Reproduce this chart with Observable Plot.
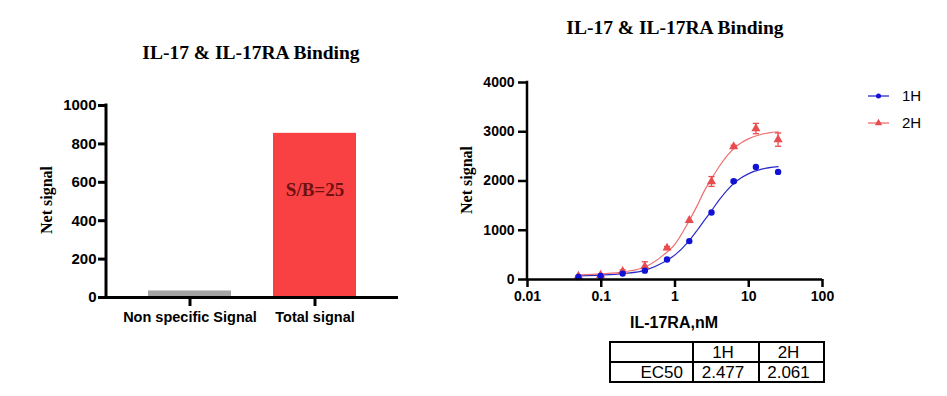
<!DOCTYPE html>
<html>
<head>
<meta charset="utf-8">
<script src="https://cdn.jsdelivr.net/npm/d3@7"></script>
<script src="https://cdn.jsdelivr.net/npm/@observablehq/plot@0.6"></script>
<style>
  html, body { margin: 0; padding: 0; background: #fff; }
  #root { position: relative; width: 947px; height: 396px; overflow: hidden; font-family: "Liberation Sans", Arial, sans-serif; }
  .abs { position: absolute; }
  .title { font-family: "Liberation Serif", "Times New Roman", serif; font-weight: bold; font-size: 19.5px; line-height: 20px; text-align: center; white-space: nowrap; }
  .ylab { font-family: "Liberation Serif", "Times New Roman", serif; font-weight: bold; font-size: 16px; line-height: 16px; white-space: nowrap; transform: translate(-50%, -50%) rotate(-90deg); }
  .xlab { font-weight: bold; font-size: 16px; line-height: 16px; white-space: nowrap; transform: translate(-50%, -50%); }
  table.ec { border-collapse: collapse; font-size: 17px; table-layout: fixed; width: 214px; }
  table.ec td { border: 2px solid #000; height: 18px; padding: 0; line-height: 17px; overflow: hidden; white-space: nowrap; }
  .leg { font-size: 15px; line-height: 15px; white-space: nowrap; }
</style>
</head>
<body>
<div id="root"></div>
<script>
// ---------- data ----------
const chartTitle = "IL-17 & IL-17RA Binding";
const yLabel = "Net signal";

// Left: bar chart
const barCategories = ["Non specific Signal", "Total signal"];
const barValues = [34, 855];
const barColors = ["#a3a3a3", "#f94144"];
const barTicks = [0, 200, 400, 600, 800, 1000];
const sbLabel = "S/B=25";
const sbLabelY = 560;

// Right: dose response
const xLabel = "IL-17RA,nM";
const seriesNames = ["1H", "2H"];
const seriesColors = ["#1212d6", "#e84c4f"];
const curveColors = ["#2a2ac8", "#ee6f6f"];
const conc = [0.049, 0.098, 0.195, 0.39, 0.78, 1.5625, 3.125, 6.25, 12.5, 25];
const h1Values = [50, 70, 120, 180, 405, 780, 1360, 1995, 2285, 2185];
const h1Errors = [0, 0, 0, 0, 0, 0, 0, 25, 0, 0];
const h2Values = [70, 90, 165, 265, 640, 1200, 1990, 2700, 3065, 2840];
const h2Errors = [0, 0, 30, 95, 30, 0, 100, 25, 105, 135];
// fitted curves
const fitX = [0.05, 0.1, 0.2, 0.4, 0.7, 1, 1.5, 2, 2.5, 3, 4, 5, 7, 10, 15, 25];
const fit1H = [75, 90, 120, 190, 350, 500, 760, 1000, 1200, 1360, 1620, 1800, 2010, 2150, 2240, 2290];
const fit2H = [95, 115, 155, 260, 500, 720, 1150, 1500, 1800, 2000, 2300, 2500, 2720, 2860, 2950, 3000];
const xTicks = [0.01, 0.1, 1, 10, 100];
const xTickLabels = ["0.01", "0.1", "1", "10", "100"];
const yTicks = [0, 1000, 2000, 3000, 4000];

// Table
const tableHeader = ["", "1H", "2H"];
const tableRowLabel = "EC50";
const ec50Values = ["2.477", "2.061"];

// ---------- build ----------
const root = document.getElementById("root");
function addDiv(cls, text, css) {
  const d = document.createElement("div");
  d.className = "abs " + cls;
  d.textContent = text;
  Object.assign(d.style, css);
  root.appendChild(d);
  return d;
}

// Left chart
const barData = barCategories.map((c, i) => ({cat: c, value: barValues[i], color: barColors[i]}));
const leftAxisLine = (index, scales, values, dims) => {
  const l = document.createElementNS("http://www.w3.org/2000/svg", "line");
  l.setAttribute("x1", dims.marginLeft); l.setAttribute("x2", dims.marginLeft);
  l.setAttribute("y1", scales.y(barTicks[0]) + 1.5); l.setAttribute("y2", scales.y(barTicks[barTicks.length - 1]) - 1.5);
  l.setAttribute("stroke", "#000"); l.setAttribute("stroke-width", 3);
  return l;
};
const left = Plot.plot({
  width: 420, height: 340,
  marginLeft: 106, marginRight: 22, marginTop: 105, marginBottom: 43,
  style: {fontFamily: "Liberation Sans, Arial, sans-serif", color: "#000", background: "transparent"},
  x: {domain: barCategories, padding: 0.336},
  y: {domain: [0, 1000]},
  marks: [
    Plot.barY(barData, {x: "cat", y: "value", fill: "color"}),
    Plot.text([{cat: barCategories[1], y: sbLabelY, t: sbLabel}], {x: "cat", y: "y", text: "t", fill: "#6e1212", fontSize: 19, fontWeight: "bold", fontFamily: "Liberation Serif, Times New Roman, serif"}),
    Plot.axisY({ticks: barTicks, tickFormat: d => String(d), tickSize: 8, tickPadding: 2, strokeWidth: 3, fontSize: 15, fontWeight: "bold", label: null}),
    Plot.axisX({tickSize: 9, tickPadding: 5, strokeWidth: 3, fontSize: 14.5, fontWeight: "bold", label: null}),
    Plot.ruleY([0], {strokeWidth: 3}),
    leftAxisLine
  ]
});
left.style.position = "absolute"; left.style.left = "0px"; left.style.top = "0px";
root.appendChild(left);

addDiv("title", chartTitle, {left: "51px", top: "43px", width: "400px"});
addDiv("ylab", yLabel, {left: "47px", top: "200px"});

// Right chart
const pts = [];
conc.forEach((x, i) => {
  pts.push({x, y: h1Values[i], e: h1Errors[i], s: seriesNames[0]});
  pts.push({x, y: h2Values[i], e: h2Errors[i], s: seriesNames[1]});
});
const fits = [];
fitX.forEach((x, i) => {
  fits.push({x, y: fit1H[i], s: seriesNames[0]});
  fits.push({x, y: fit2H[i], s: seriesNames[1]});
});
const errPts = pts.filter(d => d.e > 0);
const capSymbol = {draw(ctx, size) { const r = Math.sqrt(size) / 2; ctx.moveTo(-r, 0); ctx.lineTo(r, 0); }};
const colorOf = s => seriesColors[seriesNames.indexOf(s)];
const curveOf = s => curveColors[seriesNames.indexOf(s)];
const rightAxisLine = (index, scales, values, dims) => {
  const l = document.createElementNS("http://www.w3.org/2000/svg", "line");
  l.setAttribute("x1", dims.marginLeft); l.setAttribute("x2", dims.marginLeft);
  l.setAttribute("y1", scales.y(yTicks[0]) + 1.25); l.setAttribute("y2", scales.y(yTicks[yTicks.length - 1]) - 1.25);
  l.setAttribute("stroke", "#000"); l.setAttribute("stroke-width", 2.5);
  return l;
};
const right = Plot.plot({
  width: 507, height: 340,
  marginLeft: 87, marginRight: 125, marginTop: 82, marginBottom: 61,
  style: {fontFamily: "Liberation Sans, Arial, sans-serif", color: "#000", background: "transparent"},
  x: {type: "log", domain: [0.01, 100]},
  y: {domain: [0, 4000]},
  marks: [
    Plot.line(fits, {x: "x", y: "y", z: "s", stroke: d => curveOf(d.s), strokeWidth: 1.2, curve: "monotone-x"}),
    Plot.ruleX(errPts, {x: "x", y1: d => d.y - d.e, y2: d => d.y + d.e, stroke: d => colorOf(d.s), strokeWidth: 1.3}),
    Plot.dot(errPts, {x: "x", y: d => d.y + d.e, symbol: capSymbol, r: 3.5, stroke: d => colorOf(d.s), strokeWidth: 1.3}),
    Plot.dot(errPts, {x: "x", y: d => d.y - d.e, symbol: capSymbol, r: 3.5, stroke: d => colorOf(d.s), strokeWidth: 1.3}),
    Plot.dot(pts.filter(d => d.s === seriesNames[1]), {x: "x", y: "y", symbol: "triangle", r: 3.4, fill: d => colorOf(d.s), stroke: "none"}),
    Plot.dot(pts.filter(d => d.s === seriesNames[0]), {x: "x", y: "y", symbol: "circle", r: 3.2, fill: d => colorOf(d.s), stroke: "none"}),
    Plot.axisY({ticks: yTicks, tickFormat: d => String(d), tickSize: 9, tickPadding: 4, strokeWidth: 2.5, fontSize: 14, fontWeight: "bold", label: null}),
    Plot.axisX({ticks: xTicks, tickFormat: d => xTickLabels[xTicks.indexOf(d)] ?? "", tickSize: 8, tickPadding: 4, strokeWidth: 2.5, fontSize: 14, fontWeight: "bold", label: null}),
    Plot.ruleY([0], {strokeWidth: 2.5}),
    rightAxisLine
  ]
});
right.style.position = "absolute"; right.style.left = "440px"; right.style.top = "0px";
root.appendChild(right);

addDiv("title", chartTitle, {left: "475px", top: "18px", width: "400px"});
addDiv("ylab", yLabel, {left: "467px", top: "180px"});
addDiv("xlab", xLabel, {left: "674px", top: "323px"});

// Legend
seriesNames.forEach((name, i) => {
  const y = 96 + i * 27;
  const ns = "http://www.w3.org/2000/svg";
  const sv = document.createElementNS(ns, "svg");
  sv.setAttribute("width", 26); sv.setAttribute("height", 10);
  sv.style.position = "absolute"; sv.style.left = "866px"; sv.style.top = (y - 5) + "px";
  const ln = document.createElementNS(ns, "line");
  ln.setAttribute("x1", 2); ln.setAttribute("x2", 23); ln.setAttribute("y1", 5); ln.setAttribute("y2", 5);
  ln.setAttribute("stroke", curveColors[i]); ln.setAttribute("stroke-width", 1.3);
  sv.appendChild(ln);
  const sym = d3.symbol(i === 0 ? d3.symbolCircle : d3.symbolTriangle, i === 0 ? 20 : 24)();
  const p = document.createElementNS(ns, "path");
  p.setAttribute("d", sym); p.setAttribute("transform", "translate(12.5,5)"); p.setAttribute("fill", seriesColors[i]);
  sv.appendChild(p);
  root.appendChild(sv);
  addDiv("leg", name, {left: "902px", top: (y - 8) + "px"});
});

// Table
const tbl = document.createElement("table");
tbl.className = "ec abs";
Object.assign(tbl.style, {left: "609px", top: "341px"});
const colWidths = [83, 66, 65];
const cg = document.createElement("colgroup");
colWidths.forEach(w => { const c = document.createElement("col"); c.style.width = w + "px"; cg.appendChild(c); });
tbl.appendChild(cg);
const rows = [tableHeader, [tableRowLabel, ...ec50Values]];
rows.forEach((r) => {
  const tr = document.createElement("tr");
  r.forEach((c, ci) => {
    const td = document.createElement("td");
    td.textContent = c;
    td.style.textAlign = ci === 0 ? "right" : "center";
    if (ci === 0) td.style.paddingRight = "9px";
    else td.style.paddingRight = "6px";
    tr.appendChild(td);
  });
  tbl.appendChild(tr);
});
root.appendChild(tbl);
</script>
</body>
</html>
